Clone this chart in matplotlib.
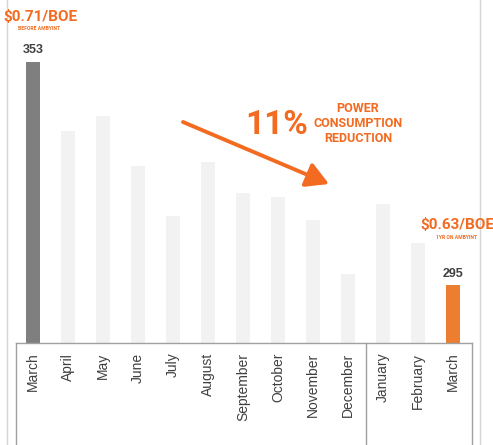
import matplotlib
matplotlib.use("Agg")
import matplotlib.pyplot as plt
from matplotlib.lines import Line2D
import numpy as np

months = ["March", "April", "May", "June", "July", "August", "September",
          "October", "November", "December", "January", "February", "March"]
values = [353, 335, 339, 326, 313, 327, 319, 318, 312, 298, 316, 306, 295]
colors = ["#7f7f7f"] + ["#f2f2f2"] * 11 + ["#ed7d31"]
orange = "#f26b21"

W, H = 493, 445
fig = plt.figure(figsize=(W / 100, H / 100), dpi=100)

# axes spans pixel x 16..472, y 0..343 (baseline)
ax = fig.add_axes([16 / W, (H - 343) / H, 456 / W, 343 / H])
x = np.arange(len(months))
ax.bar(x, values, width=0.4, color=colors, zorder=2)
ax.set_xlim(-0.49, 12.54)
ax.set_ylim(280, 280 + 343 / 3.85)
ax.set_yticks([])
ax.set_xticks(x)
ax.set_xticklabels(months, rotation=90, ha="center", va="top",
                   fontsize=10, color="#404040", family="Liberation Sans")
ax.tick_params(axis="x", length=0, pad=7)
for s in ["left", "right", "top"]:
    ax.spines[s].set_visible(False)
ax.spines["bottom"].set_color("#a0a0a0")
ax.spines["bottom"].set_linewidth(1)

# value labels on first and last bar
for i in (0, len(values) - 1):
    ax.annotate(str(values[i]), (x[i], values[i]), xytext=(0, 4),
                textcoords="offset points", ha="center", va="bottom",
                fontsize=9, fontweight="bold", color="#404040",
                family="Liberation Sans")

def fx(px):
    return px / W

def fy(py):
    return 1 - py / H

# outer thin vertical lines and the label box
for px in (7, 480):
    fig.add_artist(Line2D([fx(px), fx(px)], [0, 1], color="#d6d6d6", lw=1))
for px in (16, 366, 472):
    fig.add_artist(Line2D([fx(px), fx(px)], [0, fy(343)], color="#a0a0a0", lw=1))

# annotations
fig.text(fx(40), fy(17), "$0.71/BOE", ha="center", va="center", fontsize=11,
         fontweight="bold", color=orange, family="Roboto")
fig.text(fx(39), fy(29), "BEFORE AMBYINT", ha="center", va="center", fontsize=3.6,
         fontweight="bold", color=orange, family="Roboto")
fig.text(fx(457), fy(225), "$0.63/BOE", ha="center", va="center", fontsize=11,
         fontweight="bold", color=orange, family="Roboto")
fig.text(fx(457), fy(237), "1YR ON AMBYINT", ha="center", va="center", fontsize=3.6,
         fontweight="bold", color=orange, family="Roboto")
fig.text(fx(277), fy(125), "11%", ha="center", va="center", fontsize=24,
         fontweight="bold", color=orange, family="Roboto")
fig.text(fx(358), fy(124), "POWER\nCONSUMPTION\nREDUCTION", ha="center",
         va="center", fontsize=9, fontweight="bold", color=orange,
         family="Roboto", linespacing=1.2)

fig.patches.append(matplotlib.patches.FancyArrowPatch(
    (fx(183), fy(122)), (fx(329), fy(184)), transform=fig.transFigure,
    arrowstyle="-|>,head_length=8,head_width=4.5", mutation_scale=1.7,
    color=orange, lw=2.8, shrinkA=0, shrinkB=0))

fig.savefig("out.png", dpi=100)
